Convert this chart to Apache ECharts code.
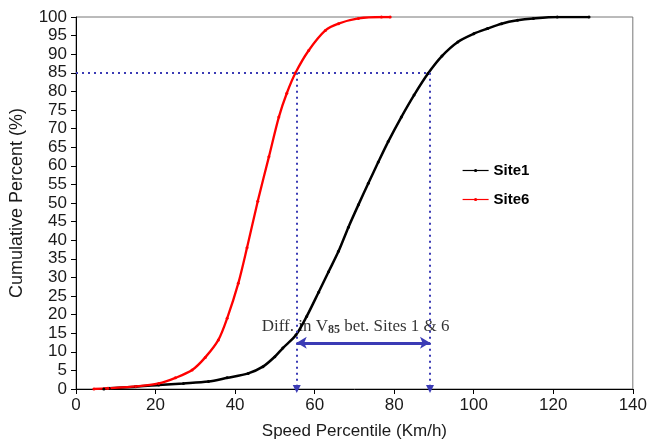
<!DOCTYPE html>
<html>
<head>
<meta charset="utf-8">
<script src="https://cdn.jsdelivr.net/npm/echarts@6/dist/echarts.min.js"></script>
<style>
  html, body { margin: 0; padding: 0; background: #fff; }
  #chart { width: 650px; height: 445px; }
</style>
</head>
<body>
<div id="chart"></div>
<script>
// Cumulative speed distributions (speed km/h, cumulative %)
const site1Speed = [7, 8.3, 15, 20.8, 27, 33.3, 38, 43.3, 47, 50, 52, 55.3, 58, 61, 63.5, 66, 68.5, 71, 73.5, 76, 78.5, 81.8, 85, 88.5, 92, 96, 100, 103.5, 107, 111, 115, 121, 129];
const site1Pct   = [0, 0.2, 0.6, 1.1, 1.5, 2, 3, 4.2, 6, 8.7, 11, 14.5, 19.5, 26, 31.5, 37, 43.5, 49.5, 55.3, 61, 66.5, 73.1, 79, 84.8, 89.5, 93.3, 95.5, 96.9, 98.2, 99.1, 99.6, 100, 100];

const site6Speed = [4.5, 8, 15, 20.8, 25, 29.2, 32.5, 35.8, 38, 40.8, 43, 45.7, 48.5, 51, 53, 55.2, 58.5, 62.7, 66, 71, 76.8, 79];
const site6Pct   = [0, 0.2, 0.7, 1.5, 3, 5.1, 8.5, 13.2, 19, 28.4, 38, 50.5, 62.4, 73.1, 79.5, 85, 91, 96.4, 98.2, 99.6, 100, 100];

// 85th percentile speeds
const pctLevel = 85;
const v85Site6 = 55.5;
const v85Site1 = 89;
const diffArrowLevel = 12.4;

const yTicks = { min: 0, max: 100, interval: 5 };
const xTicks = { min: 0, max: 140, interval: 20 };

const zip = (xs, ys) => xs.map((x, i) => [x, ys[i]]);
const guideColor = '#3b3bb5';
const dotted = { color: guideColor, width: 2, type: [2, 4] };
const sans = 'Liberation Sans, Arial';

const chart = echarts.init(document.getElementById('chart'));
chart.setOption({
  animation: false,
  backgroundColor: '#fff',
  grid: { left: 76, right: 14, top: 17, bottom: 56, show: true, borderColor: '#777', borderWidth: 1 },
  legend: {
    orient: 'vertical', left: 457, top: 158, itemGap: 14,
    itemWidth: 26, itemHeight: 4,
    lineStyle: { width: 1.2 },
    textStyle: { fontFamily: sans, fontWeight: 'bold', fontSize: 15, color: '#000' },
    data: ['Site1', 'Site6']
  },
  xAxis: {
    type: 'value', min: xTicks.min, max: xTicks.max, interval: xTicks.interval,
    name: 'Speed Percentile (Km/h)', nameLocation: 'middle', nameGap: 34,
    nameTextStyle: { fontFamily: sans, fontSize: 17, color: '#1a1a1a' },
    axisLine: { lineStyle: { color: '#000', width: 1 } },
    axisTick: { show: true, length: 5, inside: false, lineStyle: { color: '#000' } },
    axisLabel: { fontFamily: sans, fontSize: 17, color: '#1a1a1a', margin: 8 },
    splitLine: { show: false }
  },
  yAxis: {
    type: 'value', min: yTicks.min, max: yTicks.max, interval: yTicks.interval,
    name: 'Cumulative Percent (%)', nameLocation: 'middle', nameGap: 50,
    nameTextStyle: { fontFamily: sans, fontSize: 18, color: '#1a1a1a' },
    axisLine: { show: true, lineStyle: { color: '#000', width: 1 } },
    axisTick: { show: true, length: 5, lineStyle: { color: '#000' } },
    axisLabel: { fontFamily: sans, fontSize: 17, color: '#1a1a1a', margin: 9 },
    splitLine: { show: false }
  },
  series: [
    {
      name: 'Site1', type: 'line', data: zip(site1Speed, site1Pct),
      smooth: 0.3,
      symbol: 'circle', symbolSize: 3, showSymbol: true,
      itemStyle: { color: '#000' }, lineStyle: { color: '#000', width: 2.5 }, z: 3
    },
    {
      name: 'Site6', type: 'line', data: zip(site6Speed, site6Pct),
      smooth: 0.3,
      symbol: 'circle', symbolSize: 3, showSymbol: true,
      itemStyle: { color: '#ff0000' }, lineStyle: { color: '#ff0000', width: 2.3 }, z: 3
    },
    {
      // V85 guides and difference arrow
      name: 'guides', type: 'line', data: [], silent: true,
      markLine: {
        silent: true, animation: false,
        label: { show: false },
        data: [
          [{ coord: [0, pctLevel], symbol: 'none', lineStyle: dotted }, { coord: [v85Site1, pctLevel], symbol: 'none' }],
          [{ coord: [v85Site6, pctLevel], symbol: 'none', lineStyle: dotted }, { coord: [v85Site6, 0], symbol: 'triangle', symbolRotate: 180, symbolSize: [8, 8] }],
          [{ coord: [v85Site1, pctLevel], symbol: 'none', lineStyle: dotted }, { coord: [v85Site1, 0], symbol: 'triangle', symbolRotate: 180, symbolSize: [8, 8] }],
          [{ coord: [v85Site6, diffArrowLevel], symbol: 'arrow', symbolSize: [9, 10], lineStyle: { color: guideColor, width: 3, type: 'solid' } },
           { coord: [v85Site1, diffArrowLevel], symbol: 'arrow', symbolSize: [9, 10] }]
        ],
        itemStyle: { color: guideColor },
        lineStyle: dotted
      },
      z: 2
    },
    {
      name: 'diffLabel', type: 'scatter', silent: true, symbolSize: 0,
      data: [[70.3, 16.8]],
      label: {
        show: true, position: 'inside',
        formatter: 'Diff. in V{sub|85} bet. Sites 1 & 6',
        fontFamily: 'Liberation Serif, Times New Roman', fontSize: 17, color: '#000',
        rich: {
          sub: { fontFamily: 'Liberation Serif, Times New Roman', fontSize: 12, fontWeight: 'bold', color: '#000', padding: [7, 0, 0, 0] }
        }
      },
      z: 4
    }
  ]
});
</script>
</body>
</html>
